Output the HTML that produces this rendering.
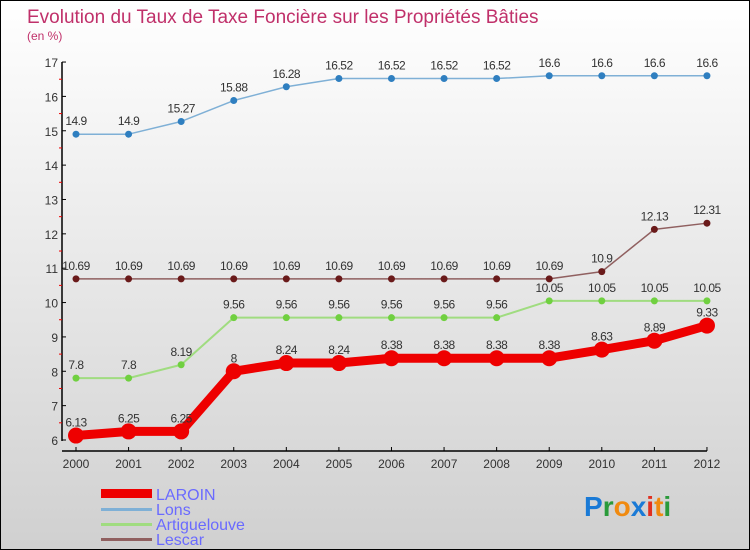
<!DOCTYPE html>
<html><head><meta charset="utf-8"><style>
body{margin:0}
#c{width:750px;height:550px;position:relative;box-sizing:border-box;border:1px solid #000;background:linear-gradient(#ffffff,#d0d0d0);overflow:hidden;font-family:"Liberation Sans",sans-serif}
</style></head><body>
<div id="c">
<svg id="s" width="750" height="550" style="position:absolute;left:0;top:0">
<text x="26" y="22" font-size="19" fill="#c0306a">Evolution du Taux de Taxe Foncière sur les Propriétés Bâties</text>
<text x="26" y="39" font-size="12" fill="#c0306a">(en %)</text>
<g id="axes"></g><g id="series"></g>
<g>
<rect x="100" y="488" width="51" height="9" fill="#e00"/>
<text x="155" y="499" font-size="16" fill="#6a6aff">LAROIN</text>
<rect x="100" y="507" width="51" height="3" fill="#7fb0d6"/>
<text x="155" y="514" font-size="16" fill="#6a6aff">Lons</text>
<rect x="100" y="522" width="51" height="3" fill="#a0dc80"/>
<text x="155" y="529" font-size="16" fill="#6a6aff">Artiguelouve</text>
<rect x="100" y="537" width="51" height="3" fill="#906060"/>
<text x="155" y="544" font-size="16" fill="#6a6aff">Lescar</text>
</g>
<g font-size="28" font-weight="bold">
<text x="583" y="515"><tspan fill="#1a7ad6">P</tspan><tspan fill="#2a9a3a">r</tspan><tspan fill="#f08a10">o</tspan><tspan fill="#1a7ad6">x</tspan><tspan fill="#e03020">i</tspan><tspan fill="#f08a10">t</tspan><tspan fill="#2a9a3a">i</tspan></text>
</g>
</svg>
</div>
<script>
const years=[2000,2001,2002,2003,2004,2005,2006,2007,2008,2009,2010,2011,2012];
const laroin=[6.13,6.25,6.25,8,8.24,8.24,8.38,8.38,8.38,8.38,8.63,8.89,9.33];
const lons=[14.9,14.9,15.27,15.88,16.28,16.52,16.52,16.52,16.52,16.6,16.6,16.6,16.6];
const artiguelouve=[7.8,7.8,8.19,9.56,9.56,9.56,9.56,9.56,9.56,10.05,10.05,10.05,10.05];
const lescar=[10.69,10.69,10.69,10.69,10.69,10.69,10.69,10.69,10.69,10.69,10.9,12.13,12.31];
const yTicks=[6,7,8,9,10,11,12,13,14,15,16,17];
const NS="http://www.w3.org/2000/svg";
const X=i=>75+i*52.58, Y=v=>439-(v-6)*34.36;
function el(t,a,p){const e=document.createElementNS(NS,t);for(const k in a)e.setAttribute(k,a[k]);p.appendChild(e);return e;}
const ax=document.getElementById('axes'),sg=document.getElementById('series');
let l=el('line',{x1:61,y1:Y(17),x2:61,y2:440,stroke:'#000','stroke-width':1.5},ax);


l=el('line',{x1:61,y1:450,x2:X(12),y2:450,stroke:'#000','stroke-width':1.5},ax);


yTicks.forEach(v=>{
 el('line',{x1:61,y1:Y(v),x2:65,y2:Y(v),stroke:'#000'},ax);
 if(v<17)el('line',{x1:58,y1:Y(v+0.5),x2:61,y2:Y(v+0.5),stroke:'#e00'},ax);
 const t=el('text',{x:57,y:Y(v)+5,'text-anchor':'end','font-size':12,fill:'#333'},ax);t.textContent=v;
 
 
});
years.forEach((y,i)=>{
 el('line',{x1:X(i),y1:446,x2:X(i),y2:450,stroke:'#000'},ax);
 const t=el('text',{x:X(i),y:467,'text-anchor':'middle','font-size':12,fill:'#333'},ax);t.textContent=y;
 
 
});
function series(d,name,col,dot,w,r){
 const g=el('g',{},sg);
 
 
 el('polyline',{points:d.map((v,i)=>X(i)+','+Y(v)).join(' '),fill:'none',stroke:col,'stroke-width':w,'stroke-linejoin':'round'},g);
 d.forEach((v,i)=>{
  const c=el('circle',{cx:X(i),cy:Y(v),r:r,fill:dot},g);
  
  
  const t=el('text',{x:X(i),y:Y(v)-9,'text-anchor':'middle','font-size':12,fill:'#333','letter-spacing':'-0.5'},g);t.textContent=v;
  
  
 });
}
series(lons,'lons','#7fb0d6','#2f7fc0',1.5,3.5);
series(lescar,'lescar','#906060','#6a1a1a',1.5,3.5);
series(artiguelouve,'artiguelouve','#a0dc80','#70d040',2,3.5);
series(laroin,'laroin','#e00','#e00',9,8);
</script>
</body></html>
